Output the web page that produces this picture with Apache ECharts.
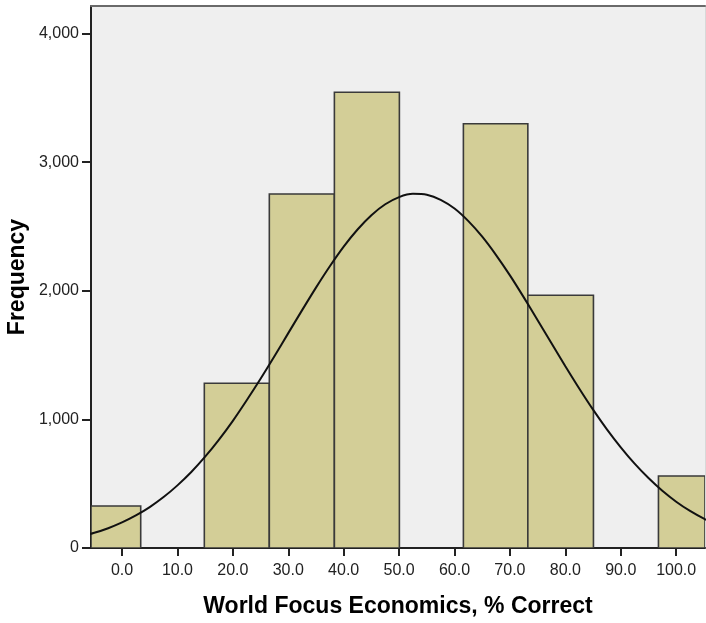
<!DOCTYPE html>
<html>
<head>
<meta charset="utf-8">
<script src="https://cdn.jsdelivr.net/npm/echarts@6/dist/echarts.min.js"></script>
<style>
html,body{margin:0;padding:0;background:#fff;}
#chart{width:706px;height:623px;}
</style>
</head>
<body>
<div id="chart"></div>
<script>
// Histogram bins (x units: % correct)
var binStart = [-8.3, 3.37, 14.85, 26.58, 38.32, 50.05, 61.6, 73.23, 85.07, 96.8];
var binEnd   = [3.37, 14.85, 26.58, 38.32, 50.05, 61.6, 73.23, 85.07, 96.8, 108.5];
var binCount = [327, 0, 1281, 2753, 3544, 0, 3299, 1965, 0, 560];

// Normal curve
var curveX = [-10, -7.5, -5, -2.5, 0, 2.5, 5, 7.5, 10, 12.5, 15, 17.5, 20, 22.5, 25, 27.5, 30, 32.5, 35, 37.5, 40, 42.5, 45, 47.5, 50, 52.5, 55, 57.5, 60, 62.5, 65, 67.5, 70, 72.5, 75, 77.5, 80, 82.5, 85, 87.5, 90, 92.5, 95, 97.5, 100, 102.5, 105, 107.5, 110];
var curveY = [67, 90, 118, 154, 199, 253, 318, 396, 487, 591, 710, 843, 989, 1149, 1316, 1491, 1671, 1850, 2025, 2191, 2344, 2477, 2588, 2673, 2729, 2754, 2747, 2708, 2640, 2542, 2421, 2278, 2120, 1949, 1771, 1592, 1414, 1241, 1076, 923, 783, 656, 544, 445, 360, 288, 228, 178, 138];

// Tick labels
var xTicks = [0, 10, 20, 30, 40, 50, 60, 70, 80, 90, 100];
var yTicks = [0, 1000, 2000, 3000, 4000];

var xTitle = 'World Focus Economics, % Correct';
var yTitle = 'Frequency';

var barData = [];
for (var i = 0; i < binCount.length; i++) {
  if (binCount[i] > 0) barData.push([binStart[i], binEnd[i], binCount[i]]);
}
var lineData = curveX.map(function (x, i) { return [x, curveY[i]]; });

var chart = echarts.init(document.getElementById('chart'), null, {renderer: 'canvas'});
var font = '"Liberation Sans", Arial, sans-serif';

chart.setOption({
  animation: false,
  backgroundColor: '#ffffff',
  grid: {
    left: 91, right: 1, top: 6, bottom: 75,
    containLabel: false,
    outerBoundsMode: 'none',
    show: true, backgroundColor: '#efefef', borderWidth: 0
  },
  graphic: [{
    type: 'text',
    x: 18, y: 277,
    rotation: Math.PI / 2,
    style: {
      text: yTitle,
      fontFamily: font, fontSize: 23, fontWeight: 'bold', fill: '#000',
      align: 'center', verticalAlign: 'middle'
    }
  }],
  xAxis: [{
    type: 'value', min: -5.6, max: 105.2,
    position: 'bottom',
    name: xTitle, nameLocation: 'middle', nameGap: 47, nameMoveOverlap: false,
    nameTextStyle: {fontFamily: font, fontSize: 23, fontWeight: 'bold', color: '#000'},
    axisLine: {show: true, onZero: false, lineStyle: {color: '#222', width: 2}},
    axisTick: {show: true, length: 8, lineStyle: {color: '#222', width: 2}, customValues: xTicks},
    axisLabel: {
      show: true, margin: 15, fontFamily: font, fontSize: 16, color: '#222',
      customValues: xTicks,
      formatter: function (v) { return Number(v).toFixed(1); }
    },
    splitLine: {show: false}
  }, {
    type: 'value', min: -5.6, max: 105.2, position: 'top',
    axisLine: {show: true, onZero: false, lineStyle: {color: '#6a6a6a', width: 2}},
    axisTick: {show: false}, axisLabel: {show: false}, splitLine: {show: false}
  }],
  yAxis: [{
    type: 'value', min: 0, max: 4215,
    axisLine: {show: true, onZero: false, lineStyle: {color: '#222', width: 2}},
    axisTick: {show: true, length: 9, lineStyle: {color: '#222', width: 2}, customValues: yTicks},
    axisLabel: {
      show: true, margin: 12, fontFamily: font, fontSize: 16, color: '#222',
      customValues: yTicks,
      formatter: function (v) { return Number(v).toLocaleString('en-US'); }
    },
    splitLine: {show: false}
  }, {
    type: 'value', min: 0, max: 4215, position: 'right',
    axisLine: {show: true, onZero: false, lineStyle: {color: '#d8d8d8', width: 1}},
    axisTick: {show: false}, axisLabel: {show: false}, splitLine: {show: false}
  }],
  series: [{
    type: 'custom',
    clip: true,
    data: barData,
    encode: {x: [0, 1], y: 2},
    renderItem: function (params, api) {
      var p0 = api.coord([api.value(0), api.value(2)]);
      var p1 = api.coord([api.value(1), 0]);
      var cs = params.coordSys;
      var rect = echarts.graphic.clipRectByRect(
        {x: p0[0], y: p0[1], width: p1[0] - p0[0], height: p1[1] - p0[1]},
        {x: cs.x, y: cs.y, width: cs.width, height: cs.height}
      );
      if (!rect) return;
      return {
        type: 'rect',
        shape: rect,
        style: {fill: '#d3ce97', stroke: '#3a3a3a', lineWidth: 1.6}
      };
    },
    z: 2
  }, {
    type: 'line',
    data: lineData,
    smooth: 0.3,
    showSymbol: false,
    symbol: 'none',
    clip: true,
    lineStyle: {color: '#111', width: 2},
    z: 3
  }]
});
</script>
</body>
</html>
